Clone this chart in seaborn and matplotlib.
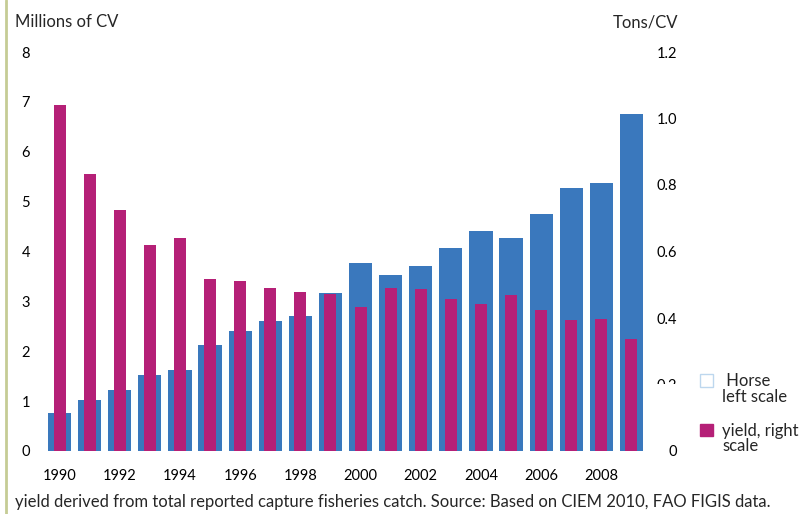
import matplotlib
matplotlib.use("Agg")
import matplotlib.pyplot as plt
import seaborn as sns
import pandas as pd
from matplotlib.patches import Patch, Rectangle
from matplotlib.lines import Line2D
from matplotlib.legend_handler import HandlerPatch

# data
years = list(range(1990, 2010))
horse_millions = [0.76, 1.02, 1.22, 1.52, 1.62, 2.12, 2.40, 2.60, 2.70, 3.16,
                  3.77, 3.53, 3.71, 4.07, 4.41, 4.27, 4.75, 5.27, 5.37, 6.75]
yield_tons = [1.04, 0.832, 0.724, 0.621, 0.642, 0.516, 0.512, 0.491, 0.479, 0.473,
              0.434, 0.491, 0.488, 0.458, 0.443, 0.470, 0.425, 0.395, 0.398, 0.338]
left_ticks = [0, 1, 2, 3, 4, 5, 6, 7, 8]
right_ticks = [0, 0.2, 0.4, 0.6, 0.8, 1.0, 1.2]
right_labels = ["0", "0.2", "0.4", "0.6", "0.8", "1.0", "1.2"]

BLUE = "#3a78bd"
MAGENTA = "#b52077"

sns.set_theme(style="white")
plt.rcParams["font.family"] = ["Lato", "DejaVu Sans"]

df = pd.DataFrame({"year": [str(y) for y in years],
                   "horse": horse_millions, "yield": yield_tons})

fig = plt.figure(figsize=(8.05, 5.14), dpi=100)
ax = fig.add_axes([44.5 / 805, 1 - 451 / 514, 602 / 805, 399 / 514])
ax2 = ax.twinx()

sns.barplot(data=df, x="year", y="horse", color=BLUE, width=0.77,
            saturation=1, linewidth=0, ax=ax)
sns.barplot(data=df, x="year", y="yield", color=MAGENTA, width=0.40,
            saturation=1, linewidth=0, ax=ax2)

ax.set_xlim(-0.5, len(years) - 0.5)
ax.set_ylim(0, 8)
ax2.set_ylim(0, 1.2)
ax.set_yticks(left_ticks)
ax.set_yticklabels([str(t) for t in left_ticks])
ax2.set_yticks(right_ticks)
ax2.set_yticklabels(right_labels, ha="right")
ax.set_xticks(range(0, len(years), 2))
ax.set_xticklabels([str(y) for y in years[::2]])

for a in (ax, ax2):
    a.set_xlabel("")
    a.set_ylabel("")
    for s in a.spines.values():
        s.set_visible(False)
    a.grid(False)
ax.tick_params(axis="y", length=0, pad=10.5, labelsize=10.5, labelcolor="black")
ax.tick_params(axis="x", length=0, pad=13, labelsize=10.5, labelcolor="black")
ax2.tick_params(axis="y", length=0, pad=22, labelsize=10.5, labelcolor="black")

fig.text(15 / 805, 1 - 22 / 514, "Millions of CV", fontsize=12, va="center")
fig.text(678 / 805, 1 - 22 / 514, "Tons/CV", fontsize=12, va="center", ha="right")
fig.text(15 / 805, 1 - 502 / 514,
         "yield derived from total reported capture fisheries catch. "
         "Source: Based on CIEM 2010, FAO FIGIS data.",
         fontsize=12, va="center")

# olive border line on the left edge
fig.add_artist(Line2D([5.5 / 805, 5.5 / 805], [0, 1], color="#c5cc95", lw=2))

# the legend box hides most of the "0.2" label
fig.add_artist(Rectangle((650 / 805, 1 - 437 / 514), 45 / 805, 53 / 514,
                         facecolor="white", edgecolor="none", zorder=5))


def top_square(legend, orig_handle, xdescent, ydescent, width, height, fontsize):
    # key sits beside the first line of the two-line label
    return Rectangle((-xdescent, -ydescent + 0.55 * fontsize), height, height)


handles = [Patch(facecolor="white", edgecolor="#bdd7ee"),
           Patch(facecolor=MAGENTA, edgecolor=MAGENTA)]
leg = fig.legend(handles, [" Horse\nleft scale", "yield, right\nscale"],
                 loc="upper left", bbox_to_anchor=(692 / 805, 1 - 365 / 514),
                 frameon=False, fontsize=12, handlelength=0.75, handleheight=0.75,
                 handletextpad=0.55, labelspacing=1.1, borderpad=0,
                 handler_map={Patch: HandlerPatch(patch_func=top_square)})
for t in leg.get_texts():
    t.set_linespacing(0.95)

fig.savefig("out.png", dpi=100)
